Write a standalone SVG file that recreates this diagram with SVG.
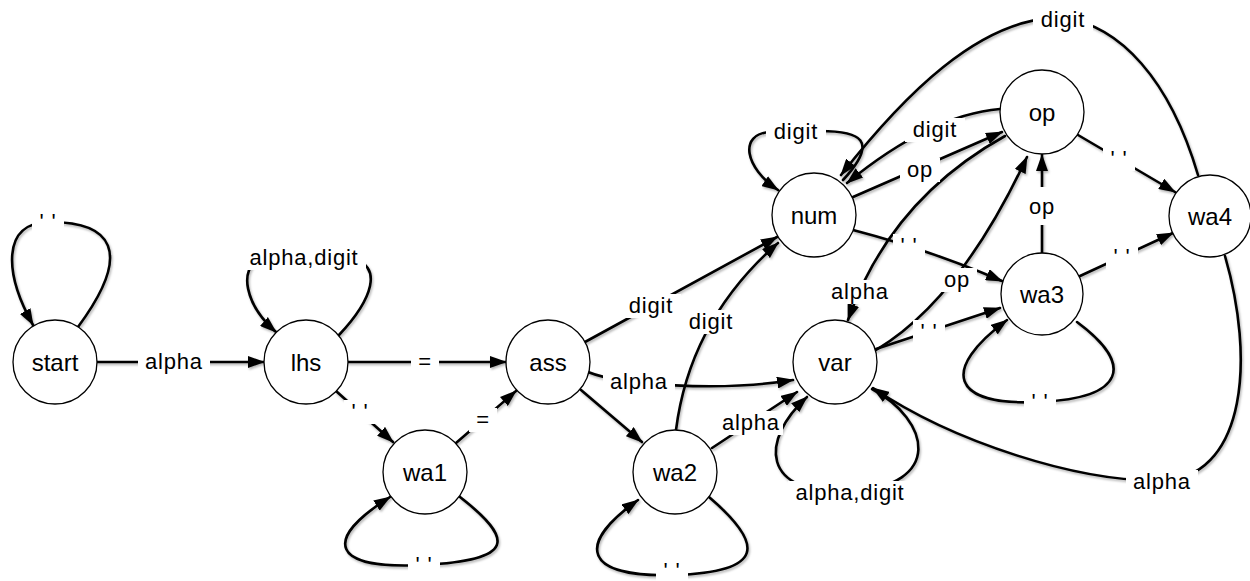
<svg xmlns="http://www.w3.org/2000/svg" width="1250" height="581" viewBox="0 0 1250 581">
<style>
.edge{fill:none;stroke:#000;stroke-width:2.6;stroke-linecap:round}
.arr{marker-end:url(#ah)}
.lb{fill:#fff;stroke:none}
.lt{font-family:"Liberation Sans",Arial,sans-serif;font-size:22px;letter-spacing:0.8px;text-anchor:middle;fill:#000}
.node circle{fill:#fff;stroke:#000;stroke-width:1.3}
.node text{font-family:"Liberation Sans",Arial,sans-serif;font-size:24px;text-anchor:middle;fill:#000}
</style>
<defs>
<marker id="ah" markerWidth="17" markerHeight="12" refX="16" refY="6" orient="auto" markerUnits="userSpaceOnUse"><path d="M0,0 L17,6 L0,12 z" fill="#000"/></marker>
<filter id="sh" x="-10%" y="-10%" width="120%" height="120%"><feDropShadow dx="1.2" dy="1.8" stdDeviation="0.9" flood-color="#000" flood-opacity="0.3"/></filter>
</defs>
<rect width="1250" height="581" fill="#fff"/>
<g id="connectors">
<g filter="url(#sh)">
<path class="edge arr" d="M78,327 C135,250 110,222 50,222 C0,222 5,275 33,325"/>
<path class="edge arr" d="M97,362 L264,362"/>
<path class="edge arr" d="M339,335 C372,300 385,265 350,258 C320,255 280,255 260,260 C238,268 245,305 276,332"/>
<path class="edge arr" d="M348,362 L506,362"/>
<path class="edge arr" d="M336,391 L393,442"/>
<path class="edge arr" d="M456,443 L516,391"/>
<path class="edge arr" d="M460,497 C515,540 515,560 424,565 C330,570 322,540 390,497"/>
<path class="edge arr" d="M585,342 L777,237"/>
<path class="edge arr" d="M676,430 Q690,320 778,243"/>
<path class="edge arr" d="M588,372 C620,385 720,392 793,380"/>
<path class="edge arr" d="M581,390 L642,442"/>
<path class="edge arr" d="M709,497 C765,545 765,572 675,575 C583,578 575,545 638,500"/>
<path class="edge arr" d="M712,448 L797,392"/>
<path class="edge arr" d="M872,389 C930,420 945,485 850,492 C760,495 760,440 807,397"/>
<path class="edge arr" d="M1225,256 C1255,360 1245,470 1170,480 C1080,485 950,440 873,388"/>
<path class="edge arr" d="M876,349 L1000,308"/>
<path class="edge arr" d="M876,350 Q960,300 1027,157"/>
<path class="edge arr" d="M853,230 Q930,250 1002,281"/>
<path class="edge arr" d="M1005,136 Q890,200 848,320"/>
<path class="edge arr" d="M853,197 L1002,132"/>
<path class="edge arr" d="M1000,109 Q930,115 847,183"/>
<path class="edge arr" d="M843,180 C880,140 860,131 820,131 L770,132 C738,134 745,168 778,190"/>
<path class="edge arr" d="M1198,175 C1170,80 1120,25 1063,18 C980,15 900,100 841,175"/>
<path class="edge arr" d="M1078,135 L1175,192"/>
<path class="edge arr" d="M1080,276 L1173,233"/>
<path class="edge arr" d="M1042,253 L1042,155"/>
<path class="edge arr" d="M1077,322 C1135,365 1125,398 1040,402 C950,406 940,370 1007,320"/>
</g>
<g id="edge-labels">
<rect class="lb" x="32" y="210" width="32" height="24"/><text class="lt" x="48" y="229">' '</text>
<rect class="lb" x="138" y="350" width="72" height="24"/><text class="lt" x="174" y="369">alpha</text>
<rect class="lb" x="242" y="246" width="124" height="24"/><text class="lt" x="304" y="265">alpha,digit</text>
<rect class="lb" x="411" y="350" width="28" height="24"/><text class="lt" x="425" y="369">=</text>
<rect class="lb" x="344" y="400" width="32" height="24"/><text class="lt" x="360" y="419">' '</text>
<rect class="lb" x="469" y="408" width="28" height="24"/><text class="lt" x="483" y="427">=</text>
<rect class="lb" x="408" y="553" width="32" height="24"/><text class="lt" x="424" y="572">' '</text>
<rect class="lb" x="621" y="294" width="60" height="24"/><text class="lt" x="651" y="313">digit</text>
<rect class="lb" x="681" y="310" width="60" height="24"/><text class="lt" x="711" y="329">digit</text>
<rect class="lb" x="603" y="370" width="72" height="24"/><text class="lt" x="639" y="389">alpha</text>
<rect class="lb" x="656" y="563" width="32" height="20"/><text class="lt" x="672" y="578">' '</text>
<rect class="lb" x="719" y="411" width="64" height="24"/><text class="lt" x="751" y="430">alpha</text>
<rect class="lb" x="788" y="481" width="124" height="24"/><text class="lt" x="850" y="500">alpha,digit</text>
<rect class="lb" x="1126" y="470" width="72" height="24"/><text class="lt" x="1162" y="489">alpha</text>
<rect class="lb" x="913" y="320" width="32" height="24"/><text class="lt" x="929" y="339">' '</text>
<rect class="lb" x="937" y="268" width="40" height="24"/><text class="lt" x="957" y="287">op</text>
<rect class="lb" x="893" y="234" width="32" height="24"/><text class="lt" x="909" y="253">' '</text>
<rect class="lb" x="824" y="280" width="72" height="24"/><text class="lt" x="860" y="299">alpha</text>
<rect class="lb" x="900" y="158" width="40" height="24"/><text class="lt" x="920" y="177">op</text>
<rect class="lb" x="905" y="118" width="60" height="24"/><text class="lt" x="935" y="137">digit</text>
<rect class="lb" x="766" y="120" width="60" height="24"/><text class="lt" x="796" y="139">digit</text>
<rect class="lb" x="1033" y="7" width="60" height="24"/><text class="lt" x="1063" y="27">digit</text>
<rect class="lb" x="1103" y="147" width="32" height="24"/><text class="lt" x="1119" y="166">' '</text>
<rect class="lb" x="1106" y="245" width="32" height="24"/><text class="lt" x="1122" y="264">' '</text>
<rect class="lb" x="1022" y="187" width="40" height="38"/><text class="lt" x="1042" y="214">op</text>
<rect class="lb" x="1024" y="390" width="32" height="24"/><text class="lt" x="1040" y="409">' '</text>
</g>
</g>
<g id="node-start" class="node"><circle cx="55" cy="362" r="42"/><text x="55" y="371">start</text></g>
<g id="node-lhs" class="node"><circle cx="306" cy="362" r="42"/><text x="306" y="371">lhs</text></g>
<g id="node-ass" class="node"><circle cx="548" cy="362" r="42"/><text x="548" y="371">ass</text></g>
<g id="node-wa1" class="node"><circle cx="425" cy="472" r="42"/><text x="425" y="481">wa1</text></g>
<g id="node-wa2" class="node"><circle cx="675" cy="472" r="42"/><text x="675" y="481">wa2</text></g>
<g id="node-num" class="node"><circle cx="814" cy="215" r="42"/><text x="814" y="224">num</text></g>
<g id="node-var" class="node"><circle cx="835" cy="362" r="42"/><text x="835" y="371">var</text></g>
<g id="node-op" class="node"><circle cx="1042" cy="112" r="42"/><text x="1042" y="121">op</text></g>
<g id="node-wa3" class="node"><circle cx="1042" cy="294" r="41"/><text x="1042" y="303">wa3</text></g>
<g id="node-wa4" class="node"><circle cx="1210" cy="216" r="41"/><text x="1210" y="225">wa4</text></g>
</svg>
